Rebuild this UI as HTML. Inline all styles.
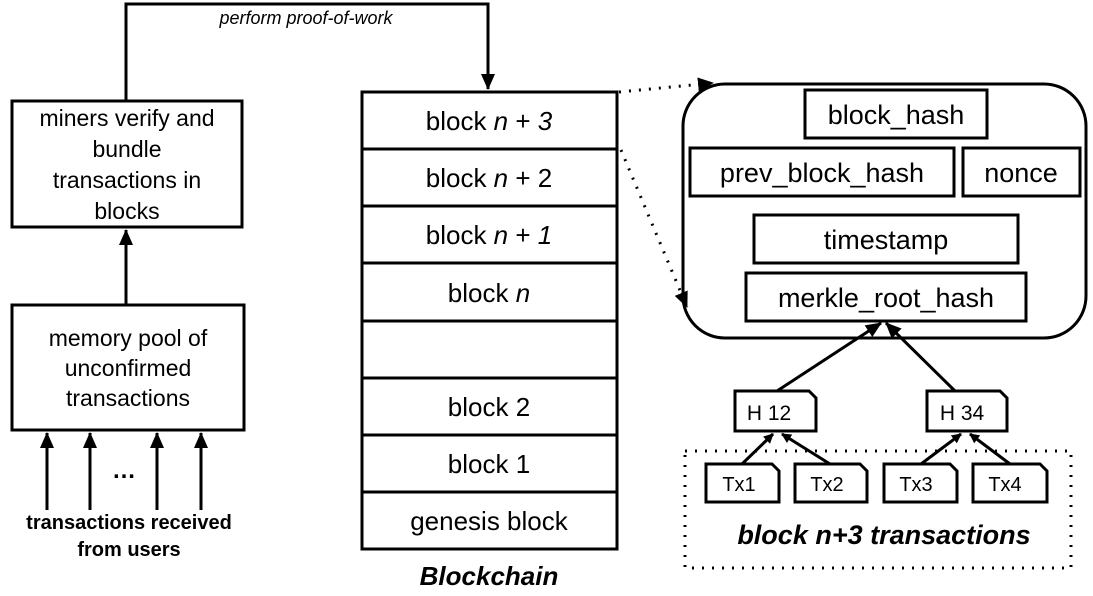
<!DOCTYPE html>
<html><head><meta charset="utf-8"><style>
body{margin:0;background:#fff}
svg text{font-family:"Liberation Sans",Arial,sans-serif;fill:#000}
</style></head><body>
<svg width="1093" height="591" viewBox="0 0 1093 591" xmlns="http://www.w3.org/2000/svg">
<defs>
<marker id="a" markerWidth="10" markerHeight="10" refX="9" refY="5" orient="auto" markerUnits="userSpaceOnUse"><path d="M0,0 L10,5 L0,10 z" fill="#000"/></marker>
<marker id="b" markerWidth="16" markerHeight="14" refX="15" refY="7" orient="auto" markerUnits="userSpaceOnUse"><path d="M0,0 L16,7 L0,14 z" fill="#000"/></marker>
</defs>
<g stroke="#000" stroke-width="3" fill="none">
<rect x="12" y="101" width="230" height="126"/>
<rect x="12" y="305" width="232" height="125"/>
<line x1="126" y1="305" x2="126" y2="230" marker-end="url(#b)"/>
<polyline points="126,101 126,4 488,4 488,89" marker-end="url(#b)"/>
<line x1="47" y1="510" x2="47" y2="433" marker-end="url(#b)"/>
<line x1="90" y1="510" x2="90" y2="433" marker-end="url(#b)"/>
<line x1="157" y1="510" x2="157" y2="433" marker-end="url(#b)"/>
<line x1="201" y1="510" x2="201" y2="433" marker-end="url(#b)"/>
<rect x="362" y="92" width="255" height="457"/>
<line x1="362" y1="149" x2="617" y2="149"/>
<line x1="362" y1="206" x2="617" y2="206"/>
<line x1="362" y1="263" x2="617" y2="263"/>
<line x1="362" y1="321" x2="617" y2="321"/>
<line x1="362" y1="378" x2="617" y2="378"/>
<line x1="362" y1="435" x2="617" y2="435"/>
<line x1="362" y1="492" x2="617" y2="492"/>
<line x1="619" y1="92" x2="713" y2="83" stroke-dasharray="2 8" marker-end="url(#b)"/>
<line x1="621" y1="150" x2="687" y2="307" stroke-dasharray="2 8" marker-end="url(#b)"/>
<rect x="683" y="84" width="403" height="254" rx="42"/>
<rect x="805" y="90" width="182" height="48"/>
<rect x="690" y="148" width="264" height="48"/>
<rect x="963" y="148" width="117" height="48"/>
<rect x="754" y="215" width="264" height="48"/>
<rect x="746" y="273" width="280" height="48"/>
<line x1="777" y1="391" x2="881" y2="323" marker-end="url(#b)"/>
<line x1="955" y1="391" x2="886" y2="323" marker-end="url(#b)"/>
<rect x="685" y="451" width="386" height="117" stroke-dasharray="2 8"/>
<path d="M735,391 H809 L816,398 V431 H735 Z"/>
<path d="M927,391 H1000 L1007,398 V431 H927 Z"/>
<path d="M706,464 H772 L779,471 V502 H706 Z"/>
<path d="M795,464 H860 L867,471 V502 H795 Z"/>
<path d="M884,464 H950 L957,471 V502 H884 Z"/>
<path d="M973,464 H1040 L1047,471 V502 H973 Z"/>
<line x1="742" y1="464" x2="773" y2="434" marker-end="url(#a)" />
<line x1="830" y1="464" x2="782" y2="434" marker-end="url(#a)"/>
<line x1="921" y1="464" x2="961" y2="434" marker-end="url(#a)"/>
<line x1="1010" y1="464" x2="970" y2="434" marker-end="url(#a)"/>
</g>
<g font-size="23" text-anchor="middle">
<text x="127" y="126">miners verify and</text>
<text x="127" y="157">bundle</text>
<text x="127" y="188">transactions in</text>
<text x="127" y="219">blocks</text>
<text x="128" y="346">memory pool of</text>
<text x="128" y="376">unconfirmed</text>
<text x="128" y="406">transactions</text>
<text x="124" y="478" font-size="24" font-weight="bold">…</text>
<text x="129" y="529" font-size="20" font-weight="bold">transactions received</text>
<text x="129" y="556" font-size="20" font-weight="bold">from users</text>
<text x="306" y="24" font-size="18" font-style="italic">perform proof-of-work</text>
</g>
<g font-size="26" text-anchor="middle">
<text x="489" y="130">block <tspan font-style="italic">n</tspan> + <tspan font-style="italic">3</tspan></text>
<text x="489" y="187">block <tspan font-style="italic">n</tspan> + 2</text>
<text x="489" y="244">block <tspan font-style="italic">n</tspan> + <tspan font-style="italic">1</tspan></text>
<text x="489" y="302">block <tspan font-style="italic">n</tspan></text>
<text x="489" y="416">block 2</text>
<text x="489" y="473">block 1</text>
<text x="489" y="530">genesis block</text>
<text x="489" y="585" font-weight="bold" font-style="italic">Blockchain</text>
<text x="896" y="124" font-size="27">block_hash</text>
<text x="822" y="182" font-size="27">prev_block_hash</text>
<text x="1021" y="182" font-size="27">nonce</text>
<text x="886" y="249" font-size="27">timestamp</text>
<text x="886" y="307" font-size="27">merkle_root_hash</text>
<text x="769" y="420" font-size="21">H 12</text>
<text x="962" y="420" font-size="21">H 34</text>
<text x="739" y="491" font-size="20">Tx1</text>
<text x="827" y="491" font-size="20">Tx2</text>
<text x="916" y="491" font-size="20">Tx3</text>
<text x="1005" y="491" font-size="20">Tx4</text>
<text x="884" y="544" font-size="27" font-weight="bold" font-style="italic">block n+3 transactions</text>
</g>
</svg>
</body></html>
